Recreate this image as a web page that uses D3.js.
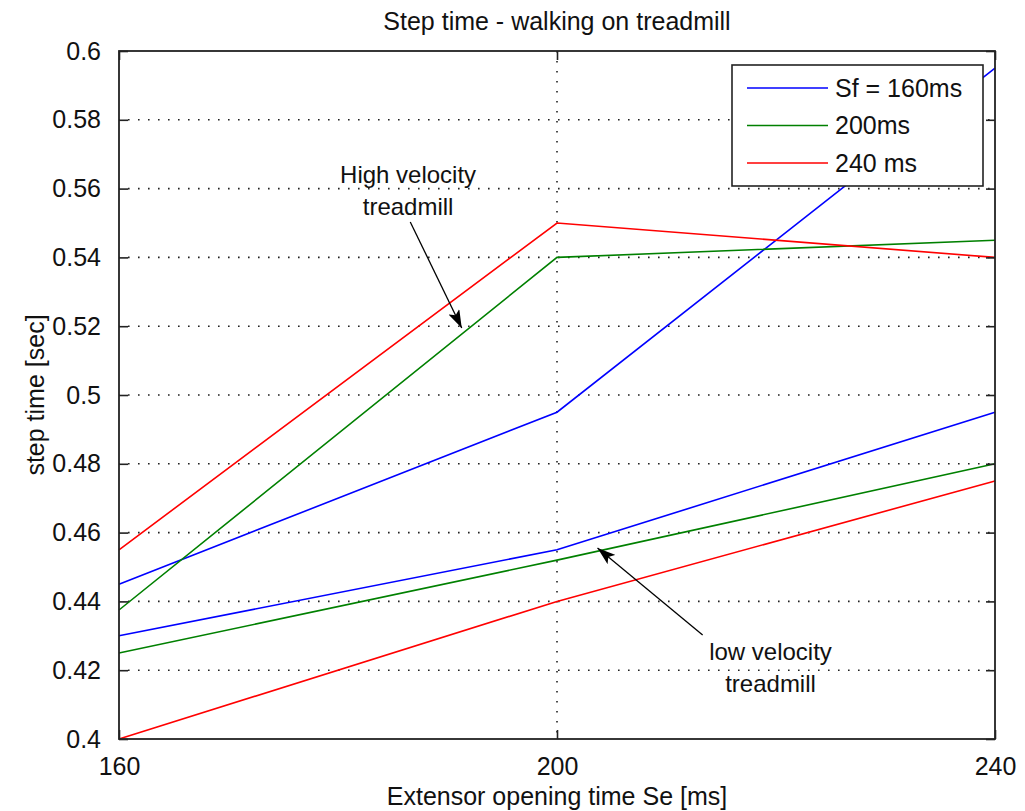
<!DOCTYPE html>
<html>
<head>
<meta charset="utf-8">
<script src="https://cdn.jsdelivr.net/npm/d3@7"></script>
<style>
  body { margin: 0; background: #fff; }
  svg text { font-family: "Liberation Sans", Arial, sans-serif; fill: #111; }
</style>
</head>
<body>
<div class="g-chart-container"></div>
<script>
// data
var seValues = [160, 200, 240];
var xTicks = [160, 200, 240];
var yTicks = [0.4, 0.42, 0.44, 0.46, 0.48, 0.5, 0.52, 0.54, 0.56, 0.58, 0.6];

var seriesNames = ["Sf = 160ms", "200ms", "240 ms"];
var seriesColors = ["#0000ff", "#008000", "#ff0000"];

// high velocity treadmill
var highBlue = [0.445, 0.495, 0.595];
var highGreen = [0.4375, 0.54, 0.545];
var highRed = [0.455, 0.55, 0.54];
// low velocity treadmill
var lowBlue = [0.43, 0.455, 0.495];
var lowGreen = [0.425, 0.452, 0.48];
var lowRed = [0.4, 0.44, 0.475];

// annotations (data units)
var highNote = { lines: ["High velocity", "treadmill"], x: 186.4, y: [0.5616, 0.5523], from: [186.6, 0.5503], to: [191.3, 0.5195] };
var lowNote = { lines: ["low velocity", "treadmill"], x: 219.5, y: [0.423, 0.4137], from: [213.3, 0.4302], to: [203.7, 0.4555] };

var width = 1025;
var height = 811;
var margin = { top: 51, right: 30, bottom: 72, left: 119 };
var innerW = width - margin.left - margin.right;
var innerH = height - margin.top - margin.bottom;

var svg = d3.select(".g-chart-container")
  .append("svg")
  .attr("width", width)
  .attr("height", height);

var g = svg.append("g")
  .attr("transform", "translate(" + margin.left + "," + margin.top + ")");

var x = d3.scaleLinear().domain([160, 240]).range([0, innerW]);
var y = d3.scaleLinear().domain([0.4, 0.6]).range([innerH, 0]);

var fmt = function(d) { return String(+d.toFixed(2)); };

// grid
g.append("g").selectAll("line")
  .data(yTicks.slice(1, -1))
  .enter().append("line")
  .attr("x1", 0).attr("x2", innerW)
  .attr("y1", function(d) { return y(d); })
  .attr("y2", function(d) { return y(d); })
  .attr("stroke", "#222").attr("stroke-width", 1.6)
  .attr("stroke-dasharray", "1.6,8.4")
  .attr("stroke-dashoffset", -9);

g.append("g").selectAll("line")
  .data(xTicks.slice(1, -1))
  .enter().append("line")
  .attr("y1", 0).attr("y2", innerH)
  .attr("x1", function(d) { return x(d); })
  .attr("x2", function(d) { return x(d); })
  .attr("stroke", "#222").attr("stroke-width", 1.6)
  .attr("stroke-dasharray", "1.6,8.4");

// lines
var line = d3.line()
  .x(function(d, i) { return x(seValues[i]); })
  .y(function(d) { return y(d); });

var allSeries = [
  { v: highBlue, c: 0 }, { v: highGreen, c: 1 }, { v: highRed, c: 2 },
  { v: lowBlue, c: 0 }, { v: lowGreen, c: 1 }, { v: lowRed, c: 2 }
];

g.append("g").selectAll("path")
  .data(allSeries)
  .enter().append("path")
  .attr("d", function(d) { return line(d.v); })
  .attr("fill", "none")
  .attr("stroke", function(d) { return seriesColors[d.c]; })
  .attr("stroke-width", 1.6);

// axes, ticks pointing in
var axisStyle = function(sel) {
  sel.select(".domain").remove();
  sel.selectAll(".tick line").attr("stroke", "#222").attr("stroke-width", 1.6);
  sel.selectAll("text").style("font-size", "25px").attr("fill", "#111");
};

g.append("g")
  .attr("transform", "translate(0," + innerH + ")")
  .call(d3.axisBottom(x).tickValues(xTicks).tickSize(-9).tickPadding(18).tickFormat(fmt))
  .call(axisStyle)
  .selectAll("text").attr("font-family", null);

g.append("g")
  .call(d3.axisTop(x).tickValues(xTicks).tickSize(-9).tickFormat(""))
  .call(axisStyle);

g.append("g")
  .call(d3.axisLeft(y).tickValues(yTicks).tickSize(-9).tickPadding(18).tickFormat(fmt))
  .call(axisStyle);

g.append("g")
  .attr("transform", "translate(" + innerW + ",0)")
  .call(d3.axisRight(y).tickValues(yTicks).tickSize(-9).tickFormat(""))
  .call(axisStyle);

svg.selectAll("text").attr("font-family", null);

// box
g.append("rect")
  .attr("width", innerW).attr("height", innerH)
  .attr("fill", "none").attr("stroke", "#222").attr("stroke-width", 1.8);

// annotations
svg.append("defs").append("marker")
  .attr("id", "arrowhead")
  .attr("viewBox", "0 -6 18 12")
  .attr("refX", 18).attr("refY", 0)
  .attr("markerWidth", 18).attr("markerHeight", 12)
  .attr("markerUnits", "userSpaceOnUse")
  .attr("orient", "auto")
  .append("path")
  .attr("d", "M0,-6L18,0L0,6L4,0Z")
  .attr("fill", "#000");

[highNote, lowNote].forEach(function(n) {
  g.append("line")
    .attr("x1", x(n.from[0])).attr("y1", y(n.from[1]))
    .attr("x2", x(n.to[0])).attr("y2", y(n.to[1]))
    .attr("stroke", "#000").attr("stroke-width", 1.3)
    .attr("marker-end", "url(#arrowhead)");
  n.lines.forEach(function(t, i) {
    g.append("text")
      .attr("x", x(n.x)).attr("y", y(n.y[i]))
      .attr("text-anchor", "middle")
      .style("font-size", "24px")
      .text(t);
  });
});

// legend
var legend = g.append("g")
  .attr("transform", "translate(" + (732 - margin.left) + "," + (65 - margin.top) + ")");

legend.append("rect")
  .attr("width", 251).attr("height", 121)
  .attr("fill", "#fff").attr("stroke", "#222").attr("stroke-width", 1.6);

var rows = legend.selectAll(".row")
  .data(seriesNames)
  .enter().append("g")
  .attr("transform", function(d, i) { return "translate(0," + (23 + i * 37.5) + ")"; });

rows.append("line")
  .attr("x1", 15).attr("x2", 96)
  .attr("stroke", function(d, i) { return seriesColors[i]; })
  .attr("stroke-width", 1.6);

rows.append("text")
  .attr("x", 103).attr("dy", "0.35em")
  .style("font-size", "25px")
  .text(function(d) { return d; });

// titles
svg.append("text")
  .attr("x", margin.left + innerW / 2).attr("y", 30)
  .attr("text-anchor", "middle")
  .style("font-size", "25px")
  .text("Step time - walking on treadmill");

svg.append("text")
  .attr("x", margin.left + innerW / 2).attr("y", 805)
  .attr("text-anchor", "middle")
  .style("font-size", "25px")
  .text("Extensor opening time Se [ms]");

svg.append("text")
  .attr("transform", "translate(44," + (margin.top + innerH / 2) + ") rotate(-90)")
  .attr("text-anchor", "middle")
  .style("font-size", "25px")
  .text("step time [sec]");
</script>
</body>
</html>
